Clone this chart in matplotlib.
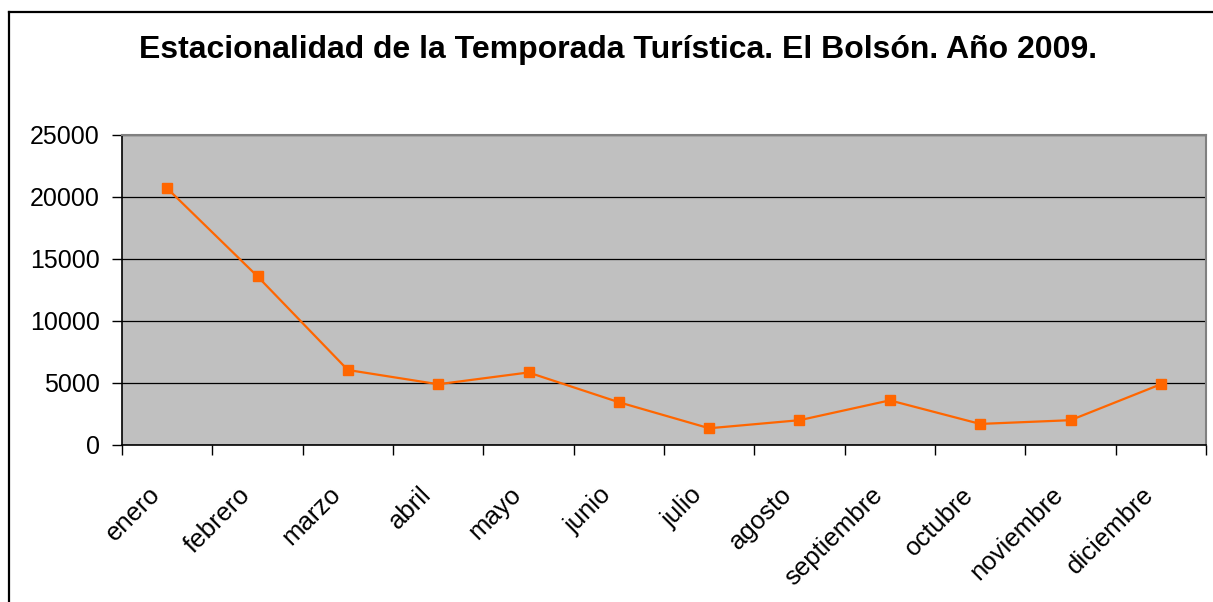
import numpy as np
import matplotlib
matplotlib.use('Agg')
import matplotlib.pyplot as plt
import matplotlib.transforms as mtransforms
from matplotlib.lines import Line2D

# Datos
meses = ['enero', 'febrero', 'marzo', 'abril', 'mayo', 'junio', 'julio',
         'agosto', 'septiembre', 'octubre', 'noviembre', 'diciembre']
turistas = [20700, 13600, 6050, 4900, 5850, 3450, 1350,
            2000, 3600, 1700, 2000, 4900]
y_ticks = [0, 5000, 10000, 15000, 20000, 25000]

plt.rcParams['font.family'] = ['Liberation Sans', 'DejaVu Sans']

W, H = 1213, 602
fig = plt.figure(figsize=(W / 100, H / 100), dpi=100)
ax = fig.add_axes([122 / W, 1 - 445 / H, 1084 / W, 310 / H])

x = np.arange(len(meses))
ax.plot(x, turistas, color='#FF6600', lw=1.6, marker='s', markersize=7.5,
        markerfacecolor='#FF6600', markeredgecolor='#FF6600', zorder=3)

ax.set_facecolor('#C0C0C0')
ax.set_xlim(-0.5, len(meses) - 0.5)
ax.set_ylim(0, 25000)
ax.set_yticks(y_ticks)
ax.set_yticklabels([str(v) for v in y_ticks], fontsize=18)
ax.yaxis.grid(True, color='black', lw=0.9)
ax.set_axisbelow(True)

# categorias centradas, marcas de division en los bordes
ax.set_xticks(x)
ax.set_xticklabels(meses, fontsize=18.5, rotation=45, ha='right',
                   va='center', rotation_mode='anchor')
ax.set_xticks(np.arange(-0.5, len(meses)), minor=True)
ax.tick_params(axis='x', which='major', length=0, pad=33)
ax.tick_params(axis='x', which='minor', length=7, width=1, color='black')
ax.tick_params(axis='y', length=7, width=1, pad=9, color='black')

# desplazar etiquetas un poco a la izquierda (como en Excel)
shift = mtransforms.ScaledTranslation(-11 / 100, 0, fig.dpi_scale_trans)
for lbl in ax.get_xticklabels():
    lbl.set_transform(lbl.get_transform() + shift)

for side in ['top', 'right']:
    ax.spines[side].set_color('#808080')
    ax.spines[side].set_linewidth(1.5)
for side in ['left', 'bottom']:
    ax.spines[side].set_color('black')
    ax.spines[side].set_linewidth(1.2)

fig.text(618 / W, 1 - 50 / H,
         'Estacionalidad de la Temporada Turística. El Bolsón. Año 2009.',
         fontsize=23, fontweight='bold', ha='center', va='center')

# marco exterior del grafico
x0, y0 = 9 / W, 1 - 12 / H
fig.add_artist(Line2D([x0, x0], [0, y0], color='black', lw=1.6))
fig.add_artist(Line2D([x0, 1], [y0, y0], color='black', lw=1.6))

fig.savefig('out.png', dpi=100)
